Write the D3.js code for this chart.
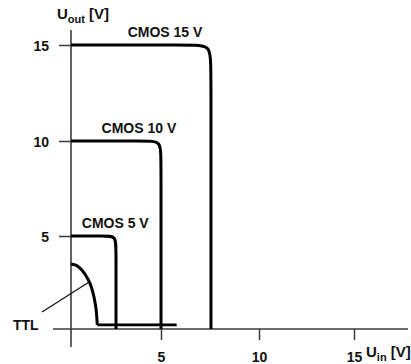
<!DOCTYPE html>
<html>
<head>
<meta charset="utf-8">
<script src="https://cdn.jsdelivr.net/npm/d3@7"></script>
<style>
  body { margin: 0; background: #fff; }
  text { font-family: "Liberation Sans", Arial, sans-serif; font-weight: bold; fill: #111; }
</style>
</head>
<body>
<svg id="draw-here"></svg>
<script>
// tick values (V)
const xTicks = [5, 10, 15];
const yTicks = [5, 10, 15];

// CMOS families: output level, switching threshold, label start (V)
const cmosNames = ["CMOS 15 V", "CMOS 10 V", "CMOS 5 V"];
const cmosHigh = [15, 10, 5];
const cmosThreshold = [7.55, 5.0, 2.5];
const cmosLabelX = [3.15, 1.7, 0.6];

// TTL transfer curve (V)
const ttlIn = [0, 0.3, 0.6, 0.9, 1.15, 1.32, 1.42, 1.46];
const ttlOut = [3.5, 3.42, 3.17, 2.75, 2.2, 1.5, 0.8, 0.22];
const ttlLowEnd = 5.8;

const width = 411, height = 364;

const svg = d3.select('#draw-here')
  .attr('width', width)
  .attr('height', height);

// hand drawn axes, slightly uneven spacing
const x = d3.scaleLinear().domain([0, 5, 10, 15]).range([71, 161, 259, 354]);
const y = d3.scaleLinear().domain([0, 5, 10, 15]).range([329, 236, 141, 45]);

const axisColor = '#3a3a3a';

// axis lines (run past the origin)
svg.append('line')
  .attr('x1', x(0)).attr('x2', x(0))
  .attr('y1', 30).attr('y2', 347)
  .attr('stroke', axisColor).attr('stroke-width', 1.6);
svg.append('line')
  .attr('x1', 53).attr('x2', 408)
  .attr('y1', y(0)).attr('y2', y(0))
  .attr('stroke', axisColor).attr('stroke-width', 1.6);

const yAxis = svg.append('g')
  .attr('transform', `translate(${x(0)},0)`)
  .call(d3.axisLeft(y).tickValues(yTicks).tickSize(12).tickPadding(10).tickSizeOuter(0));
const xAxis = svg.append('g')
  .attr('transform', `translate(0,${y(0)})`)
  .call(d3.axisBottom(x).tickValues(xTicks).tickSize(11).tickPadding(12).tickSizeOuter(0));

[yAxis, xAxis].forEach(g => {
  g.select('.domain').remove();
  g.selectAll('.tick line').attr('stroke', axisColor).attr('stroke-width', 1.5);
  g.selectAll('.tick text')
    .style('font-family', '"Liberation Sans", Arial, sans-serif')
    .style('font-weight', 'bold')
    .style('font-size', '14px')
    .attr('fill', '#111');
});
yAxis.selectAll('.tick text').attr('dy', '0.36em');

// axis titles
const yTitle = svg.append('text').attr('x', 57).attr('y', 19).style('font-size', '15px');
yTitle.append('tspan').text('U');
yTitle.append('tspan').attr('dy', 4).style('font-size', '11px').text('out');
yTitle.append('tspan').attr('dy', -4).text(' [V]');

const xTitle = svg.append('text').attr('x', 366).attr('y', 357).style('font-size', '15px');
xTitle.append('tspan').text('U');
xTitle.append('tspan').attr('dy', 4).style('font-size', '11px').text('in');
xTitle.append('tspan').attr('dy', -4).text(' [V]');

// CMOS curves: high level, rounded corner, drop to zero
const basis = d3.line().x(d => x(d[0])).y(d => y(d[1])).curve(d3.curveBasis);
cmosHigh.forEach((h, i) => {
  const t = cmosThreshold[i];
  const r = 0.4 + 0.6 * h / 15;
  const pts = [[0, h], [t - r, h], [t, h], [t, h - r * 1.2], [t, 0]];
  svg.append('path')
    .attr('d', basis(pts))
    .attr('fill', 'none')
    .attr('stroke', '#000')
    .attr('stroke-width', 3);

  svg.append('text')
    .attr('x', x(cmosLabelX[i]))
    .attr('y', y(h) - 8)
    .style('font-size', '14px')
    .text(cmosNames[i]);
});

// TTL curve
const ttlLine = d3.line().x(d => x(d[0])).y(d => y(d[1])).curve(d3.curveMonotoneX);
svg.append('path')
  .attr('d', ttlLine(ttlIn.map((v, i) => [v, ttlOut[i]])))
  .attr('fill', 'none')
  .attr('stroke', '#000')
  .attr('stroke-width', 3);
svg.append('line')
  .attr('x1', x(ttlIn[ttlIn.length - 1])).attr('x2', x(ttlLowEnd))
  .attr('y1', y(ttlOut[ttlOut.length - 1])).attr('y2', y(ttlOut[ttlOut.length - 1]))
  .attr('stroke', '#000')
  .attr('stroke-width', 2.6);

// TTL label with leader line
svg.append('line')
  .attr('x1', x(1.05)).attr('y1', y(2.55))
  .attr('x2', 42).attr('y2', 312)
  .attr('stroke', '#111').attr('stroke-width', 1.3);
svg.append('text')
  .attr('x', 13).attr('y', 330)
  .style('font-size', '14px')
  .text('TTL');
</script>
</body>
</html>
